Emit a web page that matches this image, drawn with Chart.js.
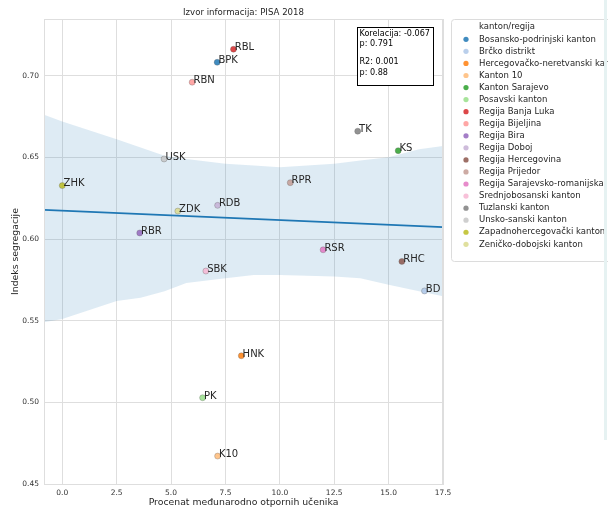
<!DOCTYPE html>
<html><head><meta charset="utf-8">
<script src="https://cdn.jsdelivr.net/npm/chart.js@4/dist/chart.umd.min.js"></script>
<style>
html,body{margin:0;padding:0;background:#fff;overflow:hidden}
#wrap{position:relative;width:608px;height:510px}
#strip{position:absolute;left:604px;top:0;width:3px;height:440px;background:#e6f2f2}
</style></head><body>
<div id="wrap"><canvas id="c" width="608" height="510"></canvas><div id="strip"></div></div>
<script>
const categories = ['Bosansko-podrinjski kanton','Brčko distrikt','Hercegovačko-neretvanski kanton','Kanton 10','Kanton Sarajevo','Posavski kanton','Regija Banja Luka','Regija Bijeljina','Regija Bira','Regija Doboj','Regija Hercegovina','Regija Prijedor','Regija Sarajevsko-romanijska','Srednjobosanski kanton','Tuzlanski kanton','Unsko-sanski kanton','Zapadnohercegovački kanton','Zeničko-dobojski kanton'];
const codes = ['BPK','BD','HNK','K10','KS','PK','RBL','RBN','RBR','RDB','RHC','RPR','RSR','SBK','TK','USK','ZHK','ZDK'];
const xValues = [7.12,16.65,8.23,7.14,15.44,6.45,7.87,5.97,3.56,7.14,15.61,10.48,11.99,6.60,13.58,4.68,0.0,5.31];
const yValues = [0.7082,0.5682,0.5285,0.4671,0.6541,0.5028,0.7162,0.6960,0.6037,0.6206,0.5863,0.6345,0.5934,0.5804,0.6660,0.6490,0.6327,0.6171];
const colors = ['#1f77b4','#aec7e8','#ff7f0e','#ffbb78','#2ca02c','#98df8a','#d62728','#ff9896','#9467bd','#c5b0d5','#8c564b','#c49c94','#e377c2','#f7b6d2','#7f7f7f','#c7c7c7','#bcbd22','#dbdb8d'];
const regX = [-0.84, 17.5];
const regY = [0.6178, 0.6073];
const bandX = [-0.84,0,2.5,3.6,4.7,5.7,7.5,8.8,10,12.5,13.7,15,16.4,17.5];
const bandUpper = [0.676,0.672,0.661,0.656,0.651,0.649,0.646,0.645,0.644,0.646,0.648,0.650,0.655,0.657];
const bandLower = [0.549,0.551,0.562,0.564,0.568,0.573,0.576,0.578,0.578,0.577,0.576,0.572,0.568,0.565];
const xTicks = [0,2.5,5,7.5,10,12.5,15,17.5];
const yTicks = [0.45,0.50,0.55,0.60,0.65,0.70];
const statsLines = ['Korelacija: -0.067','p: 0.791','','R2: 0.001','p: 0.88'];
const titleText = 'Izvor informacija: PISA 2018';
const xTitle = 'Procenat međunarodno otpornih učenika';
const yTitle = 'Indeks segregacije';
const legendTitle = 'kanton/regija';

const FONT = "'DejaVu Sans'";
const GRID = '#dedede';

const pts = xValues.map((x,i)=>({x:x,y:yValues[i]}));
const reg = regX.map((x,i)=>({x:x,y:regY[i]}));
const up = bandX.map((x,i)=>({x:x,y:bandUpper[i]}));
const lo = bandX.map((x,i)=>({x:x,y:bandLower[i]}));

function hexA(h, a){
  const n = parseInt(h.slice(1),16);
  return 'rgba(' + (n>>16) + ',' + ((n>>8)&255) + ',' + (n&255) + ',' + a + ')';
}
const pointColors = colors.map(c=>hexA(c,0.85));

const decor = {
  id:'decor',
  beforeDraw(chart){
    const ctx = chart.ctx;
    ctx.save();
    ctx.fillStyle = '#fff';
    ctx.fillRect(0,0,chart.width,chart.height);
    ctx.restore();
  },
  afterDatasetsDraw(chart){
    const ctx = chart.ctx;
    const a = chart.chartArea;
    ctx.save();
    ctx.strokeStyle = GRID; ctx.lineWidth = 1;
    ctx.strokeRect(Math.round(a.left)+0.5, Math.round(a.top)+0.5, Math.round(a.right-a.left)-1, Math.round(a.bottom-a.top));
    const meta = chart.getDatasetMeta(0);
    ctx.font = '10px ' + FONT;
    ctx.fillStyle = '#262626';
    ctx.textAlign = 'left'; ctx.textBaseline = 'alphabetic';
    meta.data.forEach((el,i)=>{ ctx.fillText(codes[i], el.x + 1.3, el.y + 0.8); });
    ctx.restore();
  },
  afterDraw(chart){
    const ctx = chart.ctx;
    ctx.save();
    ctx.font = '8.6px ' + FONT; ctx.fillStyle = '#262626';
    ctx.textAlign = 'center'; ctx.textBaseline = 'middle';
    const a = chart.chartArea;
    ctx.fillText(titleText, (a.left + a.right)/2, 13);
    // stats box
    ctx.fillStyle = '#fff'; ctx.strokeStyle = '#000'; ctx.lineWidth = 1;
    ctx.fillRect(357.5, 27.5, 76, 58); ctx.strokeRect(357.5, 27.5, 76, 58);
    ctx.fillStyle = '#000'; ctx.font = '8.1px ' + FONT;
    ctx.textAlign = 'left'; ctx.textBaseline = 'middle';
    let y = 34;
    statsLines.forEach((t,i)=>{
      if (i>0) y += (t === '' || statsLines[i-1] === '') ? 9 : 10.3;
      if (t) ctx.fillText(t, 359.5, y);
    });
    // legend
    const lx = 451.5, ly = 19.5, lw = 200, lh = 242;
    ctx.beginPath();
    const r = 3;
    ctx.moveTo(lx + r, ly); ctx.lineTo(lx + lw - r, ly);
    ctx.arcTo(lx + lw, ly, lx + lw, ly + r, r);
    ctx.lineTo(lx + lw, ly + lh - r);
    ctx.arcTo(lx + lw, ly + lh, lx + lw - r, ly + lh, r);
    ctx.lineTo(lx + r, ly + lh);
    ctx.arcTo(lx, ly + lh, lx, ly + lh - r, r);
    ctx.lineTo(lx, ly + r);
    ctx.arcTo(lx, ly, lx + r, ly, r);
    ctx.closePath();
    ctx.fillStyle = 'rgba(255,255,255,0.85)'; ctx.fill();
    ctx.strokeStyle = '#dcdcdc'; ctx.stroke();
    ctx.font = '8.5px ' + FONT; ctx.textBaseline = 'middle'; ctx.textAlign = 'left';
    ctx.fillStyle = '#262626';
    ctx.fillText(legendTitle, 479, 27.2);
    categories.forEach((c,i)=>{
      const yy = 39.3 + i*12.06;
      ctx.beginPath(); ctx.arc(466, yy, 2.6, 0, Math.PI*2);
      ctx.fillStyle = pointColors[i]; ctx.fill();
      ctx.fillStyle = '#262626';
      ctx.fillText(c, 479, yy);
    });
    ctx.restore();
  }
};

new Chart(document.getElementById('c'), {
  type: 'scatter',
  data: {
    datasets: [
      { type:'scatter', data: pts, order:0,
        pointBackgroundColor: pointColors, pointBorderColor: 'rgba(90,90,90,0.6)', pointBorderWidth: 0.5,
        pointRadius: 3, pointHoverRadius: 3 },
      { type:'line', data: reg, order:1, borderColor:'#1f77b4', borderWidth:1.8, pointRadius:0, fill:false, tension:0 },
      { type:'line', data: up, order:2, borderWidth:0, borderColor:'rgba(0,0,0,0)', pointRadius:0,
        fill:'+1', backgroundColor:'rgba(31,119,180,0.15)', tension:0 },
      { type:'line', data: lo, order:3, borderWidth:0, borderColor:'rgba(0,0,0,0)', pointRadius:0, fill:false, tension:0 }
    ]
  },
  options: {
    responsive:false, animation:false, devicePixelRatio:1,
    layout:{ padding:{ top:19, right:165, bottom:0, left:0 } },
    plugins:{ legend:{display:false}, tooltip:{enabled:false}, title:{display:false} },
    scales:{
      x:{ type:'linear', min:-0.84, max:17.5,
        afterFit(s){ s.height = 26; },
        afterBuildTicks(s){ s.ticks = xTicks.map(v=>({value:v})); },
        grid:{ color:GRID, lineWidth:1, drawTicks:false },
        border:{ display:true, color:GRID },
        ticks:{ padding:5, color:'#333', font:{family:FONT, size:7.5}, maxRotation:0,
          callback:(v)=>Number(v).toFixed(1) },
        title:{ display:true, text:xTitle, color:'#262626', font:{family:FONT, size:9.3}, padding:{top:0,bottom:1.4} }
      },
      y:{ type:'linear', min:0.45, max:0.7347,
        afterFit(s){ s.width = 44; },
        afterBuildTicks(s){ s.ticks = yTicks.map(v=>({value:v})); },
        grid:{ color:GRID, lineWidth:1, drawTicks:false },
        border:{ display:true, color:GRID },
        ticks:{ padding:5, color:'#333', font:{family:FONT, size:7.5},
          callback:(v)=>Number(v).toFixed(2) },
        title:{ display:true, text:yTitle, color:'#262626', font:{family:FONT, size:9.3}, padding:{top:9.7,bottom:0} }
      }
    }
  },
  plugins:[decor]
});
</script>
</body></html>
